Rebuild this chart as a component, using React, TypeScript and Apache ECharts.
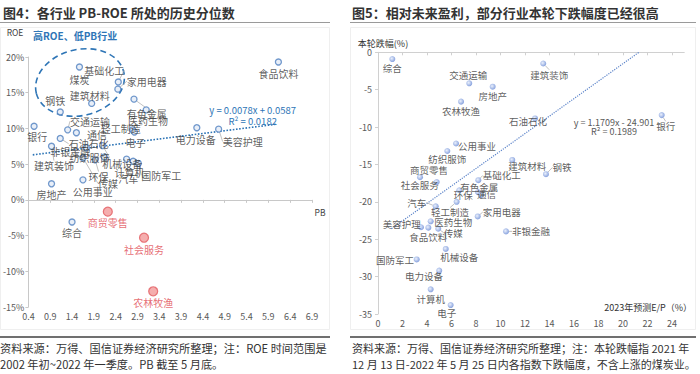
import React, { useEffect, useRef } from 'react';
import * as echarts from 'echarts';

const FONT = "'Noto Sans CJK SC', 'Noto Sans', sans-serif";

// ---- Left chart (图4): PB vs ROE ----
const leftNames = ['食品饮料', '煤炭', '基础化工', '家用电器', '建筑材料', '钢铁', '有色金属', '医药生物', '轻工制造', '电子', '银行', '交通运输', '通信', '石油石化', '建筑装饰', '非银金融', '纺织服饰', '机械设备', '环保', '传媒', '计算机', '汽车', '国防军工', '公用事业', '房地产', '综合', '电力设备', '美容护理'];
const leftPB = [6.13, 1.57, 2.46, 2.45, 1.85, 1.13, 2.82, 3.1, 2.79, 2.83, 0.53, 1.3, 1.5, 1.13, 0.93, 1.73, 2.1, 2.14, 1.93, 1.65, 2.8, 2.65, 2.92, 1.65, 0.93, 1.4, 4.26, 4.76];
const leftROE = [19.3, 18.6, 16.5, 15.5, 13.5, 12.3, 14.1, 12.6, 9.8, 9.5, 10.3, 9.8, 9.4, 8.6, 7.5, 7.3, 7.6, 6.0, 5.6, 5.9, 5.4, 5.7, 5.1, 2.8, 2.25, -3.1, 10.1, 9.9];
const lowNames = ['商贸零售', '社会服务', '农林牧渔'];
const lowPB = [2.22, 3.05, 3.26];
const lowROE = [-1.65, -5.3, -12.8];
const leftTrend = [[0.5, 6.3], [6.1, 10.6]];
const leftXTicks = [0.4, 0.9, 1.4, 1.9, 2.4, 2.9, 3.4, 3.9, 4.4, 4.9, 5.4, 5.9, 6.4, 6.9];

// ---- Right chart (图5): E/P vs drawdown ----
const rightNames = ['综合', '交通运输', '房地产', '农林牧渔', '公用事业', '纺织服饰', '商贸零售', '建筑材料', '基础化工', '建筑装饰', '石油石化', '银行', '钢铁', '社会服务', '有色金属', '通信', '环保', '轻工制造', '汽车', '家用电器', '美容护理', '医药生物', '食品饮料', '传媒', '非银金融', '机械设备', '国防军工', '电力设备', '计算机', '电子'];
const rightEP = [1.17, 7.45, 9.36, 6.78, 6.37, 5.66, 3.43, 10.96, 8.19, 13.49, 12.82, 23.16, 13.71, 4.79, 8.16, 8.4, 6.64, 6.42, 4.71, 8.14, 3.51, 4.3, 4.11, 4.92, 10.45, 5.53, 3.16, 5.0, 4.3, 5.93];
const rightDrop = [-0.9, -4.15, -4.6, -6.6, -12.2, -13.2, -16.7, -14.4, -17.1, -1.5, -8.85, -8.4, -16.3, -17.35, -18.7, -19.1, -18.45, -20.0, -20.6, -21.95, -23.4, -22.6, -23.45, -23.6, -23.95, -26.3, -27.7, -29.2, -31.7, -33.8];
const rightTrend = [[1.1, -23.6], [21.3, 0]];
const rightXTicks = [0, 2, 4, 6, 8, 10, 12, 14, 16, 18, 20, 22, 24];

// label offsets [dx, dy, leaderLine]
const leftOffsets: Record<string, number[]> = {
  '食品饮料': [0, 11, 0], '煤炭': [0, 12.7, 0], '基础化工': [-14, -12, 1], '家用电器': [29, -8, 1],
  '建筑材料': [-2, -8, 0], '钢铁': [-5, -11.6, 0], '有色金属': [12.7, 14.2, 1], '医药生物': [1.7, 10.7, 0],
  '轻工制造': [-12, -1.3, 0], '电子': [1, 10.4, 0], '银行': [3.3, 10.3, 0], '交通运输': [22.3, -8.6, 1],
  '通信': [20.7, 1.7, 0], '石油石化': [28.4, 5.3, 1], '建筑装饰': [2.4, 19.3, 1], '非银金融': [-16.3, 3.4, 1],
  '纺织服饰': [-13, 12, 1], '机械设备': [18, 6, 0], '环保': [3.4, 16.7, 1], '传媒': [25, 25.7, 1],
  '计算机': [-3.6, 11, 1], '汽车': [1.7, 19.6, 1], '国防军工': [23, 11.8, 1], '公用事业': [9.7, 11.7, 0],
  '房地产': [0, 11, 0], '综合': [0, 10.4, 0], '电力设备': [-1, 11.3, 0], '美容护理': [24, 12.4, 1],
};
const lowOffsets: Record<string, number[]> = {
  '商贸零售': [0, 11.3, 0], '社会服务': [0, 11.3, 0], '农林牧渔': [0, 11.7, 0],
};
const rightOffsets: Record<string, number[]> = {
  '综合': [0, 9, 0], '交通运输': [-1, -8.5, 0], '房地产': [0, 9, 0], '农林牧渔': [0, 9.5, 0],
  '公用事业': [21, 2, 0], '纺织服饰': [0, 8.5, 0], '商贸零售': [9, -7, 0], '建筑材料': [15, 6, 0],
  '基础化工': [23.4, -4.7, 1], '建筑装饰': [6, 11, 1], '石油石化': [-7, 2.4, 0], '银行': [4, 11, 1],
  '钢铁': [16, -6.7, 1], '社会服务': [-17, 2.6, 0], '有色金属': [1.3, -5.3, 0], '通信': [5.7, -1, 0],
  '环保': [4, 5, 0], '轻工制造': [-6.7, 10.6, 1], '汽车': [-19, -3.7, 1], '家用电器': [24, -4.3, 1],
  '美容护理': [-19.3, -3.4, 0], '医药生物': [22.6, 0.7, 0], '食品饮料': [0, 9.4, 0], '传媒': [15, 4, 1],
  '非银金融': [25, 0, 1], '机械设备': [13.6, 7.7, 0], '国防军工': [-21.7, 1, 1], '电力设备': [-15.3, 5.7, 0],
  '计算机': [0, 9.3, 0], '电子': [-4, 8.4, 0],
};

const mkLayout = (names: string[], offs: Record<string, number[]>) => (p: any) => {
  const o = offs[names[p.dataIndex]] || [0, 10, 0];
  return { dx: o[0], dy: o[1] };
};
const mkData = (names: string[], xs: number[], ys: number[], offs: Record<string, number[]>) =>
  names.map((n, i) => ({ name: n, value: [xs[i], ys[i]], labelLine: { show: !!(offs[n] && offs[n][2]) } }));

const txt = (x: number, y: number, text: string, size: number, fill = '#333', align = 'left', weight = 'normal') => ({
  type: 'text', x, y, silent: true,
  style: { text, fill, font: `${weight} ${size}px ${FONT}`, textAlign: align, textVerticalAlign: 'middle' },
});
const hline = (x1: number, x2: number, y: number, stroke: string, lw: number) => ({
  type: 'line', silent: true, shape: { x1, y1: y, x2, y2: y }, style: { stroke, lineWidth: lw },
});

export default function App() {
  const ref = useRef<HTMLDivElement>(null);
  useEffect(() => {
    document.body.style.margin = '0';
    const chart = echarts.init(ref.current!, null, { renderer: 'svg' });
    const axisLabelStyle = { fontSize: 9, color: '#595959', fontFamily: FONT };
    const option: any = {
      animation: false,
      backgroundColor: '#fff',
      grid: [
        { left: 26, right: 388, top: 57, bottom: 67 },
        { left: 378, right: 15.75, top: 52.3, bottom: 60 },
      ],
      xAxis: [
        { gridIndex: 0, type: 'value', min: 0.4, max: 6.9, position: 'bottom', axisLine: { show: false, onZero: false }, axisTick: { show: false }, splitLine: { show: false }, axisLabel: { ...axisLabelStyle, margin: 5, customValues: leftXTicks, formatter: (v: number) => v.toFixed(1) } },
        { gridIndex: 0, type: 'value', min: 0.4, max: 6.9, position: 'top', axisLine: { show: true, onZero: true, lineStyle: { color: '#c8c8c8' } }, axisTick: { show: true, inside: true, length: 3, customValues: leftXTicks, lineStyle: { color: '#c8c8c8' } }, splitLine: { show: false }, axisLabel: { show: false } },
        { gridIndex: 1, type: 'value', min: 0, max: 25, position: 'bottom', axisLine: { show: false, onZero: false }, axisTick: { show: false }, splitLine: { show: false }, axisLabel: { ...axisLabelStyle, margin: 5, customValues: rightXTicks } },
        { gridIndex: 1, type: 'value', min: 0, max: 25, position: 'top', axisLine: { show: true, onZero: false, lineStyle: { color: '#d0d0d0' } }, axisTick: { show: true, inside: true, length: 3, customValues: rightXTicks, lineStyle: { color: '#d0d0d0' } }, splitLine: { show: false }, axisLabel: { show: false } },
      ],
      yAxis: [
        { gridIndex: 0, type: 'value', min: -15, max: 20, interval: 5, axisLine: { show: true, onZero: false, lineStyle: { color: '#c8c8c8' } }, axisTick: { show: true, length: 3, lineStyle: { color: '#c8c8c8' } }, splitLine: { show: false }, axisLabel: { ...axisLabelStyle, margin: 4, formatter: '{value}%' } },
        { gridIndex: 1, type: 'value', min: -35, max: 0, interval: 5, axisLine: { show: true, onZero: false, lineStyle: { color: '#d0d0d0' } }, axisTick: { show: true, length: 3, lineStyle: { color: '#d0d0d0' } }, splitLine: { show: false }, axisLabel: { ...axisLabelStyle, margin: 6 } },
      ],
      series: [
        { type: 'line', xAxisIndex: 0, yAxisIndex: 0, data: leftTrend, symbol: 'none', silent: true, z: 1, lineStyle: { type: 'dotted', color: '#2e75b6', width: 1.6 } },
        {
          type: 'scatter', xAxisIndex: 0, yAxisIndex: 0, data: mkData(leftNames, leftPB, leftROE, leftOffsets), symbolSize: 6, z: 3,
          itemStyle: { color: '#e3ebf6', borderColor: '#4f7fbf', borderWidth: 1.3 },
          label: { show: true, position: 'inside', formatter: '{b}', fontSize: 10, color: '#333', fontFamily: FONT },
          labelLine: { show: false, lineStyle: { color: '#a6a6a6', width: 0.7 } },
          labelLayout: mkLayout(leftNames, leftOffsets),
        },
        {
          type: 'scatter', xAxisIndex: 0, yAxisIndex: 0, data: mkData(lowNames, lowPB, lowROE, lowOffsets), symbolSize: 9, z: 3,
          itemStyle: { color: '#f39a9a', borderColor: '#e25a5f', borderWidth: 1.2 },
          label: { show: true, position: 'inside', formatter: '{b}', fontSize: 10, color: '#e0474f', fontFamily: FONT },
          labelLayout: mkLayout(lowNames, lowOffsets),
        },
        { type: 'line', xAxisIndex: 2, yAxisIndex: 1, data: rightTrend, symbol: 'none', silent: true, z: 1, lineStyle: { type: 'dotted', color: '#5b83c9', width: 1.2 } },
        {
          type: 'scatter', xAxisIndex: 2, yAxisIndex: 1, data: mkData(rightNames, rightEP, rightDrop, rightOffsets), symbolSize: 6, z: 3,
          itemStyle: { color: new echarts.graphic.RadialGradient(0.4, 0.4, 0.6, [{ offset: 0, color: '#e6edfb' }, { offset: 1, color: '#6a8bd6' }]) },
          label: { show: true, position: 'inside', formatter: '{b}', fontSize: 9.5, color: '#333', fontFamily: FONT },
          labelLine: { show: false, lineStyle: { color: '#a6a6a6', width: 0.7 } },
          labelLayout: mkLayout(rightNames, rightOffsets),
        },
      ],
      graphic: [
        { type: 'rect', silent: true, shape: { x: 0.5, y: 27.5, width: 329, height: 302 }, style: { fill: 'none', stroke: '#efefef', lineWidth: 1 } },
        { type: 'rect', silent: true, shape: { x: 350.5, y: 27.5, width: 345, height: 302 }, style: { fill: 'none', stroke: '#efefef', lineWidth: 1 } },
        txt(3, 12, '图4：各行业 PB-ROE 所处的历史分位数', 13, '#333', 'left', 'bold'),
        txt(352, 12, '图5：相对未来盈利，部分行业本轮下跌幅度已经很高', 13, '#333', 'left', 'bold'),
        hline(0, 330, 22.5, '#9a9a9a', 1),
        hline(350, 696, 22.5, '#9a9a9a', 1),
        hline(0, 330, 337, '#404040', 1.5),
        hline(350, 696, 337, '#404040', 1.5),
        txt(0, 348, '资料来源：万得、国信证券经济研究所整理；注：ROE 时间范围是', 11.2),
        txt(0, 364, '2002 年初~2022 年一季度。PB 截至 5 月底。', 11.2),
        txt(352, 348, '资料来源：万得、国信证券经济研究所整理；注：本轮跌幅指 2021 年', 11),
        txt(352, 364, '12 月 13 日-2022 年 5 月 25 日内各指数下跌幅度，不含上涨的煤炭业。', 11),
        txt(15, 32, 'ROE', 8.5, '#404040', 'center'),
        txt(33, 35, '高ROE、低PB行业', 10, '#2e75b6', 'left', 'bold'),
        txt(320, 212, 'PB', 8.5, '#404040', 'center'),
        txt(252.7, 110, 'y = 0.0078x + 0.0587', 9.5, '#2e75b6', 'center'),
        txt(252.7, 120.7, 'R² = 0.0182', 9.5, '#2e75b6', 'center'),
        {
          type: 'ellipse', x: 80, y: 82.5, rotation: 0.24, silent: true,
          shape: { cx: 0, cy: 0, rx: 45, ry: 33 },
          style: { fill: 'none', stroke: '#2e75b6', lineWidth: 1.6, lineDash: [6, 4] },
        },
        txt(383, 43, '本轮跌幅(%)', 9, '#333', 'center'),
        txt(692, 307.7, '2023年预测E/P（%）', 9, '#333', 'right'),
        txt(614, 122.7, 'y = 1.1709x - 24.901', 9, '#595959', 'center'),
        txt(614, 131.5, 'R² = 0.1989', 9, '#595959', 'center'),
      ],
    };
    chart.setOption(option);
    return () => chart.dispose();
  }, []);
  return <div ref={ref} style={{ width: 700, height: 374, background: '#fff' }} />;
}
